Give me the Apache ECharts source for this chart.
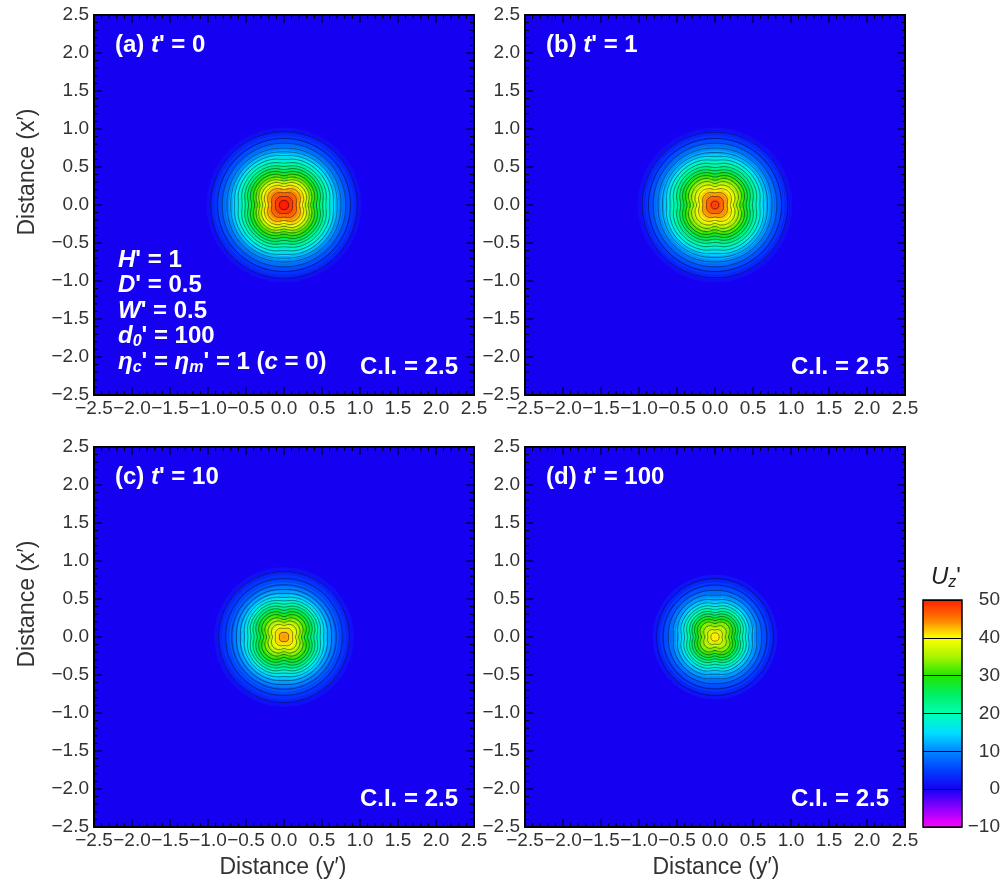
<!DOCTYPE html>
<html><head><meta charset="utf-8">
<script src="https://cdn.jsdelivr.net/npm/echarts@6/dist/echarts.min.js"></script>
<style>html,body{margin:0;padding:0;background:#fff}#c{width:1002px;height:883px}</style>
</head><body><div id="c"></div>
<script>
// ---------- data ----------
// radial sample positions (distance from the centre)
const radii = [0,0.05,0.1,0.15,0.2,0.25,0.3,0.35,0.4,0.45,0.5,0.55,0.6,0.65,0.7,0.75,0.8,0.85,0.9,0.95,1.0,1.05];
// angles (deg) of the sampled rays; the field is symmetric about the axes and diagonals
const sampleAngles = [0,15,30,45];
// contour levels, C.I. = 2.5
const levels = [2.5,5,7.5,10,12.5,15,17.5,20,22.5,25,27.5,30,32.5,35,37.5,40,42.5,45,47.5,50];
const axisMin = -2.5, axisMax = 2.5, axisStep = 0.5, minorStep = 0.1;
const barMin = -10, barMax = 50, barStep = 10;
const barColors = ['#ff00ff','#8c00ff','#1600f2','#0040ff','#0088ff','#00e0ff','#00ffb4','#00f064','#22e600','#a8f500','#ffff00','#ff7800','#ff2000'];
const panelLabels = ['(a)','(b)','(c)','(d)'];
const panelTimes = ['0','1','10','100'];
const ciText = 'C.I. = 2.5';

// (a) t' = 0
const a_0  = [52,50.5,48,45.5,42.5,39.5,36,32.5,29,26,23,20,17.5,15,12.5,10,8,6,4,3,1,0];
const a_15 = [52,50.5,48.2,46.1,43.6,41.2,38,34.7,31.2,28,24.8,21.4,18.6,15.8,12.9,10.2,8.1,6,4,3,1,0];
const a_30 = [52,50.5,48.4,46.4,44.3,42.2,39.2,36.1,32.6,29.3,25.9,22.3,19.3,16.3,13.2,10.4,8.1,6,4,3,1,0];
const a_45 = [52,50.5,48.4,46.5,44.5,42.5,39.6,36.5,33,29.7,26.2,22.6,19.5,16.4,13.3,10.4,8.1,6,4,3,1,0];
// (b) t' = 1
const b_0  = [48.5,47.5,45.5,43,40,37,34,31,28,25,22,19.5,17,14.5,12,10,8,6,4,2.8,1,0];
const b_15 = [48.5,47.5,45.7,43.6,41.1,38.7,36,33.2,30.2,27,23.8,20.9,18.1,15.3,12.4,10.2,8.1,6,4,2.8,1,0];
const b_30 = [48.5,47.5,45.9,43.9,41.8,39.7,37.2,34.6,31.6,28.3,24.9,21.8,18.8,15.8,12.7,10.4,8.1,6,4,2.8,1,0];
const b_45 = [48.5,47.5,45.9,44,42,40,37.6,35,32,28.7,25.2,22.1,19,15.9,12.8,10.4,8.1,6,4,2.8,1,0];
// (c) t' = 10
const c_0  = [44,43,40.5,37.5,34.5,31,28,25,22,19,16,13.5,11,9,7,5.5,4,2.8,1.2,0,0,0];
const c_15 = [44,43.1,40.9,38.5,36,33,30.2,27.2,24,20.7,17.3,14.4,11.6,9.3,7.1,5.6,4,2.8,1.2,0,0,0];
const c_30 = [44,43.2,41.2,39.1,37,34.2,31.6,28.6,25.2,21.7,18.1,14.9,11.9,9.5,7.2,5.6,4,2.8,1.2,0,0,0];
const c_45 = [44,43.2,41.3,39.3,37.3,34.6,32,29,25.6,22,18.3,15.1,12,9.5,7.2,5.6,4,2.8,1.2,0,0,0];
// (d) t' = 100
const d_0  = [41,40.2,37,34,31,27.5,24,20.5,17.5,14.5,12,10,8,6,4.5,3,1.5,0,0,0,0,0];
const d_15 = [41,40.3,37.6,35.1,32.7,29.5,26.1,22.4,19.2,15.8,12.9,10.6,8.3,6.1,4.6,3,1.5,0,0,0,0,0];
const d_30 = [41,40.4,37.9,35.8,33.7,30.7,27.4,23.7,20.2,16.6,13.4,10.9,8.5,6.2,4.6,3,1.5,0,0,0,0,0];
const d_45 = [41,40.4,38,36,34,31.1,27.8,24,20.5,16.8,13.6,11,8.5,6.2,4.6,3,1.5,0,0,0,0,0];

const panelProfiles = [[a_0,a_15,a_30,a_45],[b_0,b_15,b_30,b_45],[c_0,c_15,c_30,c_45],[d_0,d_15,d_30,d_45]];

// ---------- layout ----------
const F = "'Liberation Sans', Arial, Helvetica, sans-serif";
const gridBoxes = [[94,15],[525,15],[94,447],[525,447]];
const PS = 380;
const angStep = sampleAngles[1] - sampleAngles[0];
const nSectors = 360 / angStep;
const dr = radii[1] - radii[0];

// tick positions along the frame (major every 0.5, minor every 0.1)
const tickData = [];
{
  const nMinor = Math.round((axisMax - axisMin) / minorStep);
  const per = Math.round(axisStep / minorStep);
  for (let j = 0; j <= nMinor; j++) {
    const v = +(axisMin + j * minorStep).toFixed(2);
    tickData.push([v, j % per === 0 ? 8 : 4]);
  }
}

function profileIndexForSector(k) {
  let phi = (k * angStep) % 90;
  if (phi > 45) phi = 90 - phi;
  return sampleAngles.indexOf(phi);
}
function fmt(v) { return (v < 0 ? '\u2212' : '') + Math.abs(v).toFixed(1); }
function fmtBar(v) { return (v < 0 ? '\u2212' : '') + Math.abs(v); }

function fillRender(params, api) {
  const i = api.value(0), k = api.value(1);
  const r0 = Math.max(0, radii[i] - dr / 2), r1 = radii[i] + dr / 2;
  const t0 = (k * angStep - angStep / 2) * Math.PI / 180;
  const t1 = (k * angStep + angStep / 2) * Math.PI / 180;
  const pts = [];
  const n = 4;
  for (let s = 0; s <= n; s++) { const t = t0 + (t1 - t0) * s / n; pts.push(api.coord([r1 * Math.cos(t), r1 * Math.sin(t)])); }
  for (let s = n; s >= 0; s--) { const t = t0 + (t1 - t0) * s / n; pts.push(api.coord([r0 * Math.cos(t), r0 * Math.sin(t)])); }
  const c = api.visual('color');
  return { type: 'polygon', shape: { points: pts }, style: { fill: c, stroke: c, lineWidth: 0.7 } };
}
function contourRender(profiles) {
  return function (params, api) {
    const L = api.value(0);
    const pts = [];
    for (let k = 0; k < nSectors; k++) {
      const prof = profiles[profileIndexForSector(k)];
      let rr = null;
      for (let i = 0; i < prof.length - 1; i++) {
        if (prof[i] >= L && prof[i + 1] < L) {
          rr = radii[i] + (prof[i] - L) / (prof[i] - prof[i + 1]) * (radii[i + 1] - radii[i]);
          break;
        }
      }
      if (rr === null) return null;
      const th = k * angStep * Math.PI / 180;
      pts.push(api.coord([rr * Math.cos(th), rr * Math.sin(th)]));
    }
    return { type: 'polygon', shape: { points: pts, smooth: 0.35 }, style: { fill: 'none', stroke: 'rgba(0,0,20,0.62)', lineWidth: 0.7 } };
  };
}
function tickRender(params, api) {
  const v = api.value(0), len = api.value(1);
  const b = api.coord([v, axisMin]), t = api.coord([v, axisMax]);
  const l = api.coord([axisMin, v]), r = api.coord([axisMax, v]);
  const st = { stroke: '#000', lineWidth: 1 };
  return { type: 'group', children: [
    { type: 'line', shape: { x1: b[0], y1: b[1], x2: b[0], y2: b[1] - len }, style: st },
    { type: 'line', shape: { x1: t[0], y1: t[1], x2: t[0], y2: t[1] + len }, style: st },
    { type: 'line', shape: { x1: l[0], y1: l[1], x2: l[0] + len, y2: l[1] }, style: st },
    { type: 'line', shape: { x1: r[0], y1: r[1], x2: r[0] - len, y2: r[1] }, style: st }
  ] };
}

const grids = [], xAxes = [], yAxes = [], fillSeries = [], otherSeries = [];
gridBoxes.forEach((g, p) => {
  grids.push({ left: g[0], top: g[1], width: PS, height: PS, show: true, borderColor: '#000', borderWidth: 2, backgroundColor: barColors[2], containLabel: false, outerBoundsMode: 'none' });
  const lab = { fontSize: 19, color: '#333', fontFamily: F, formatter: fmt, showMinLabel: true, showMaxLabel: true, hideOverlap: false };
  const common = { gridIndex: p, type: 'value', min: axisMin, max: axisMax, interval: axisStep,
    axisLine: { show: false, onZero: false }, axisTick: { show: false }, minorTick: { show: false }, splitLine: { show: false }, minorSplitLine: { show: false } };
  xAxes.push(Object.assign({}, common, { position: 'bottom', axisLabel: Object.assign({ margin: 4 }, lab) }));
  yAxes.push(Object.assign({}, common, { position: 'left', axisLabel: Object.assign({ margin: 5 }, lab) }));

  const profiles = panelProfiles[p];
  const cells = [];
  radii.forEach((r, i) => {
    for (let k = 0; k < nSectors; k++) cells.push([i, k, profiles[profileIndexForSector(k)][i]]);
  });
  fillSeries.push({ type: 'custom', coordinateSystem: 'cartesian2d', xAxisIndex: p, yAxisIndex: p, data: cells, renderItem: fillRender, silent: true, z: 2, animation: false });
  otherSeries.push({ type: 'custom', coordinateSystem: 'cartesian2d', xAxisIndex: p, yAxisIndex: p, data: levels.map(l => [l, 0]), renderItem: contourRender(profiles), silent: true, z: 3, animation: false });
  otherSeries.push({ type: 'custom', coordinateSystem: 'cartesian2d', xAxisIndex: p, yAxisIndex: p, data: tickData, renderItem: tickRender, silent: true, z: 6, animation: false });
});
// colour bar frame / level lines
grids.push({ left: 923, top: 600, width: 39, height: 227, show: true, borderColor: '#000', borderWidth: 1.5, backgroundColor: 'transparent', z: 10, containLabel: false, outerBoundsMode: 'none' });
xAxes.push({ gridIndex: 4, type: 'value', min: 0, max: 1, show: false });
yAxes.push({ gridIndex: 4, type: 'value', min: barMin, max: barMax, interval: barStep, position: 'right', z: 10,
  axisLine: { show: false, onZero: false }, axisTick: { show: false },
  splitLine: { show: true, lineStyle: { color: '#000', width: 1 } },
  axisLabel: { margin: 38, align: 'right', fontSize: 19, color: '#333', fontFamily: F, formatter: fmtBar, showMinLabel: true, showMaxLabel: true } });

// ---------- texts ----------
const W = '#ffffff';
const richW = {
  b: { font: `bold 24px ${F}`, fontFamily: F, fontSize: 24, fontWeight: 'bold', fill: W, lineHeight: 28 },
  i: { font: `italic bold 24px ${F}`, fontFamily: F, fontSize: 24, fontWeight: 'bold', fontStyle: 'italic', fill: W, lineHeight: 28 },
  s: { font: `italic bold 16px ${F}`, fontFamily: F, fontSize: 16, fontWeight: 'bold', fontStyle: 'italic', fill: W, lineHeight: 14, verticalAlign: 'bottom' }
};
function wtext(x, y, text, align) {
  return { type: 'text', x: x, y: y, z: 100, silent: true, style: { text: text, rich: richW, textAlign: align || 'left', textVerticalAlign: 'middle', fill: W, font: `bold 24px ${F}` } };
}
function gtext(x, y, text, rot) {
  return { type: 'text', x: x, y: y, rotation: rot || 0, z: 100, silent: true, style: { text: text, textAlign: 'center', textVerticalAlign: 'middle', fill: '#333', font: `23px ${F}` } };
}
const graphics = [];
gridBoxes.forEach((g, p) => {
  graphics.push(wtext(g[0] + 21, g[1] + 30, `{b|${panelLabels[p]} }{i|t}{b|' = ${panelTimes[p]}}`));
  graphics.push(wtext(g[0] + 364, g[1] + 352, `{b|${ciText}}`, 'right'));
});
graphics.push(wtext(118, 260, "{i|H}{b|' = 1}"));
graphics.push(wtext(118, 285.5, "{i|D}{b|' = 0.5}"));
graphics.push(wtext(118, 311, "{i|W}{b|' = 0.5}"));
graphics.push(wtext(118, 336, "{i|d}{s|0}{b|' = 100}"));
graphics.push(wtext(118, 362, "{i|\u03b7}{s|c}{b|' = }{i|\u03b7}{s|m}{b|' = 1 (}{i|c}{b| = 0)}"));
graphics.push(gtext(28, 172, 'Distance (x\u2032)', Math.PI / 2));
graphics.push(gtext(28, 604, 'Distance (x\u2032)', Math.PI / 2));
graphics.push(gtext(283, 868, 'Distance (y\u2032)'));
graphics.push(gtext(716, 868, 'Distance (y\u2032)'));
graphics.push({ type: 'text', x: 931, y: 577, z: 100, silent: true, style: { text: "{u|U}{z|z}{p|'}", textAlign: 'left', textVerticalAlign: 'middle',
  rich: { u: { font: `italic 24px ${F}`, fill: '#222', lineHeight: 28 }, z: { font: `italic 16px ${F}`, fill: '#222', lineHeight: 14, verticalAlign: 'bottom' }, p: { font: `24px ${F}`, fill: '#222', lineHeight: 28 } } } });

const chart = echarts.init(document.getElementById('c'), null, { renderer: 'canvas' });
chart.setOption({
  animation: false,
  backgroundColor: '#ffffff',
  grid: grids,
  xAxis: xAxes,
  yAxis: yAxes,
  visualMap: { type: 'continuous', min: barMin, max: barMax, dimension: 2, seriesIndex: [0, 1, 2, 3], inRange: { color: barColors }, outOfRange: { color: '#c9c9d6' },
    left: 923, top: 600, itemWidth: 39, itemHeight: 227, padding: 0, calculable: false, text: null, orient: 'vertical', show: true, hoverLink: false, z: 4 },
  series: fillSeries.concat(otherSeries),
  graphic: graphics
});
</script></body></html>
